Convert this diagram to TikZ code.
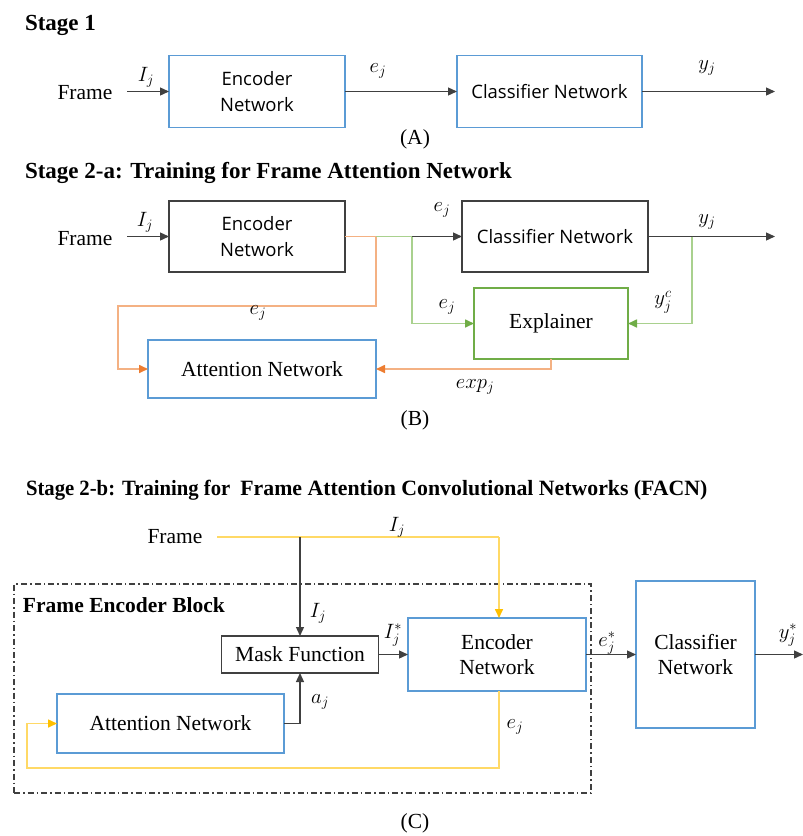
\documentclass[tikz,border=0pt]{standalone}
\usepackage{fontspec}
\usepackage{graphicx}
\setmainfont{Liberation Serif}
\newfontfamily\sansf{Open Sans}
\usetikzlibrary{arrows.meta}
\definecolor{boxblue}{HTML}{5B9BD5}
\definecolor{orgline}{HTML}{F4B183}
\definecolor{orgtip}{HTML}{ED7D31}
\definecolor{grnline}{HTML}{A9D18E}
\definecolor{grntip}{HTML}{70AD47}
\definecolor{ylwline}{HTML}{FFD966}
\definecolor{ylwtip}{HTML}{FFC000}
\definecolor{dk}{HTML}{404040}
\begin{document}
\begin{tikzpicture}[x=1pt,y=-1pt,
  every node/.style={inner sep=0pt, outer sep=0pt},
  lbl/.style={font=\fontsize{21}{25}\selectfont},
  ttl/.style={font=\fontsize{23}{27}\selectfont\bfseries, anchor=base west},
  bbox/.style={draw=boxblue, line width=1.8pt, align=center},
  kbox/.style={draw=dk, line width=2pt, align=center},
  gbox/.style={draw=grntip, line width=1.8pt, align=center},
  sanst/.style={font=\sansf\fontsize{18.5}{26}\selectfont},
  serift/.style={font=\fontsize{21.5}{24.5}\selectfont},
  kline/.style={draw=dk, line width=1.3pt},
  karr/.style={kline, -{Triangle[length=9pt,width=8pt]}},
  oline/.style={draw=orgline, line width=1.6pt},
  oarr/.style={oline, -{Triangle[length=9pt,width=8pt,color=orgtip]}},
  gline/.style={draw=grnline, line width=1.6pt},
  garr/.style={gline, -{Triangle[length=9pt,width=8pt,color=grntip]}},
  yline/.style={draw=ylwline, line width=1.6pt},
  yarr/.style={yline, -{Triangle[length=9pt,width=8pt,color=ylwtip]}},
  febox/.style={draw=dk, line width=1.5pt, dash pattern=on 6pt off 3pt on 1.5pt off 3pt}
]
\useasboundingbox (0,0) rectangle (803,836);
% ---------------- Stage 1
\node[ttl] (t1) at (25,30) {Stage 1};
\node[serift, anchor=base] (frA) at (85,99) {Frame};
\node[bbox, sanst, minimum width=176pt, minimum height=72pt] (encA) at (257,91.5) {Encoder\\Network};
\node[bbox, sanst, minimum width=185pt, minimum height=72pt] (clsA) at (549.5,91.5) {Classifier Network};
\coordinate (inA) at (127,91.5);
\coordinate (outA) at (775,91.5);
\draw[karr] (inA) -- (encA.west);
\draw[karr] (encA.east) -- (clsA.west);
\draw[karr] (clsA.east) -- (outA);
\node[lbl] (lIA) at (146,77) {$I_j$};
\node[lbl] (leA) at (378,71) {$e_j$};
\node[lbl] (lyA) at (707,68) {$y_j$};
\node[serift] (capA) at (415,139) {(A)};
% ---------------- Stage 2-a
\node[ttl] (t2a) at (25,178) {Stage 2-a: Training for Frame Attention Network};
\node[serift, anchor=base] (frB) at (85,245) {Frame};
\node[kbox, sanst, minimum width=176pt, minimum height=71pt] (encB) at (257,236.5) {Encoder\\Network};
\node[kbox, sanst, minimum width=186pt, minimum height=71pt] (clsB) at (555,236.5) {Classifier Network};
\node[bbox, serift, minimum width=228pt, minimum height=58pt] (attB) at (262,369) {Attention Network};
\node[gbox, serift, minimum width=154pt, minimum height=71pt] (expB) at (551,323.5) {Explainer};
\coordinate (inB) at (127,236.5);
\coordinate (brO) at (376,236.5);
\coordinate (brG) at (412,236.5);
\coordinate (brY) at (692,236.5);
\coordinate (outB) at (775,236.5);
\coordinate (oc1) at (118,306);
\draw[karr] (inB) -- (encB.west);
\draw[oline] (encB.east) -- (brO);
\draw[oarr] (brO) -- (brO |- oc1) -- (oc1) |- (attB.west);
\draw[gline] (brO) -- (brG);
\draw[karr] (brG) -- (clsB.west);
\draw[garr] (brG) |- (expB.west);
\draw[karr] (clsB.east) -- (outB);
\draw[garr] (brY) |- (expB.east);
\draw[oarr] (expB.south) |- (attB.east);
\node[lbl] (lIB) at (145,222) {$I_j$};
\node[lbl] (leB1) at (442,210) {$e_j$};
\node[lbl] (lyB) at (707,222) {$y_j$};
\node[lbl] (leB2) at (258,313) {$e_j$};
\node[lbl] (leB3) at (447,307) {$e_j$};
\node[lbl] (lycB) at (663,302) {$y_j^{c}$};
\node[lbl] (lexB) at (475,387) {$exp_j$};
\node[serift] (capB) at (415,420) {(B)};
% ---------------- Stage 2-b
\node[ttl, font=\fontsize{21.8}{26}\selectfont\bfseries] (t2b) at (26,495) {\scalebox{0.95}[1]{Stage 2-b: Training for}\hspace{10pt}Frame Attention Convolutional Networks (FACN)};
\node[febox, minimum width=577pt, minimum height=209pt] (feb) at (302.5,688.5) {};
\node[ttl, font=\fontsize{21.5}{26}\selectfont\bfseries] (febl) at (23,612) {Frame Encoder Block};
\node[serift, anchor=base] (frC) at (175,543) {Frame};
\node[kbox, serift, line width=1.8pt, minimum width=157pt, minimum height=37pt] (mask) at (300,654.5) {Mask Function};
\node[bbox, serift, minimum width=178pt, minimum height=73pt] (encC) at (497,654.5) {Encoder\\Network};
\node[bbox, serift, minimum width=119pt, minimum height=147pt] (clsC) at (695.5,654.5) {Classifier\\Network};
\node[bbox, serift, minimum width=227pt, minimum height=59pt] (attC) at (170.5,723.5) {Attention Network};
\coordinate (yc0) at (217,537);
\coordinate (ysp) at (300,537);
\coordinate (yc1) at (499,537);
\coordinate (outC) at (803,654.5);
\coordinate (ac) at (300,723.5);
\coordinate (yb1) at (27,768);
\draw[yline] (yc0) -- (yc1);
\draw[yarr] (yc1) -- (yc1 |- encC.north);
\draw[karr] (ysp) -- (mask.north);
\draw[karr] (mask.east) -- (encC.west);
\draw[karr] (encC.east) -- (clsC.west);
\draw[karr] (clsC.east) -- (outC);
\draw[karr] (attC.east) -- (ac) -- (mask.south);
\draw[yarr] (yc1 |- encC.south) |- (yb1) |- (attC.west);
\node[lbl] (lIC1) at (397,527) {$I_j$};
\node[lbl] (lIC2) at (318,613) {$I_j$};
\node[lbl] (lIsC) at (393,635) {$I_j^*$};
\node[lbl] (lesC) at (607,643) {$e_j^*$};
\node[lbl] (lysC) at (788,635) {$y_j^*$};
\node[lbl] (laC) at (320,702) {$a_j$};
\node[lbl] (leC) at (515,727) {$e_j$};
\node[serift] (capC) at (415,823) {(C)};
\end{tikzpicture}
\end{document}
